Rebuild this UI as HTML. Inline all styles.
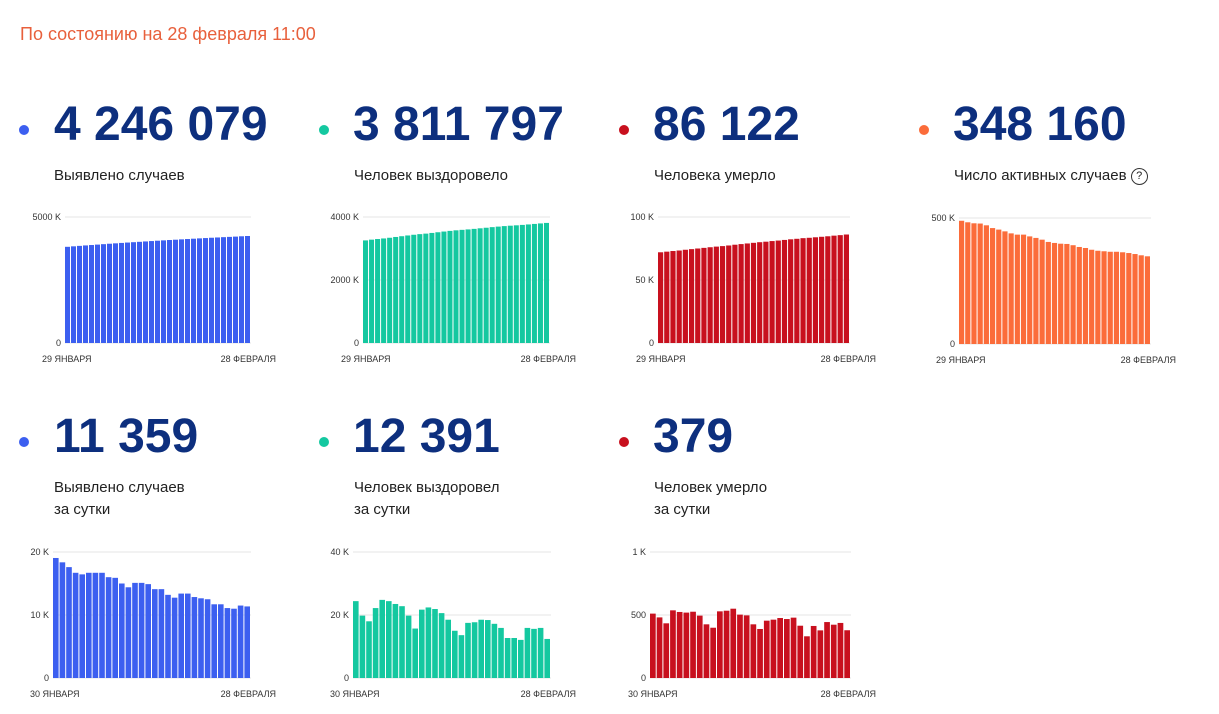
<!DOCTYPE html>
<html><head><meta charset="utf-8">
<style>
body{margin:0;background:#fff;width:1219px;height:714px;overflow:hidden;font-family:"Liberation Sans","DejaVu Sans",sans-serif;position:relative}
.abs{position:absolute}
#hdr{left:20px;top:24px;font-size:18px;color:#e8603c}
.num{font-size:48px;font-weight:bold;color:#0d2f7e;line-height:48px}
.dot{width:10px;height:10px;border-radius:50%}
.lbl{font-size:15px;color:#222;line-height:22px}
svg text{font-family:"Liberation Sans",sans-serif;font-size:9px;fill:#333}
</style></head><body>
<div id="hdr" class="abs">По состоянию на 28 февраля 11:00</div>

<div class="abs dot" style="left:19px;top:125px;background:#3c5ff0"></div>
<div class="abs num" style="left:54px;top:101px">4 246 079</div>
<div class="abs lbl" style="left:54px;top:165px">Выявлено случаев</div>

<div class="abs dot" style="left:319px;top:125px;background:#14c8a0"></div>
<div class="abs num" style="left:353px;top:101px">3 811 797</div>
<div class="abs lbl" style="left:354px;top:165px">Человек выздоровело</div>

<div class="abs dot" style="left:619px;top:125px;background:#c8101e"></div>
<div class="abs num" style="left:653px;top:101px">86 122</div>
<div class="abs lbl" style="left:654px;top:165px">Человека умерло</div>

<div class="abs dot" style="left:919px;top:125px;background:#fb6c3a"></div>
<div class="abs num" style="left:953px;top:101px">348 160</div>
<div class="abs lbl" style="left:954px;top:165px">Число активных случаев <span style="display:inline-block;width:15px;height:15px;border:1px solid #333;border-radius:50%;font-size:11px;text-align:center;line-height:15px;vertical-align:1px">?</span></div>

<div class="abs dot" style="left:19px;top:437px;background:#3c5ff0"></div>
<div class="abs num" style="left:54px;top:413px">11 359</div>
<div class="abs lbl" style="left:54px;top:477px">Выявлено случаев<br>за сутки</div>

<div class="abs dot" style="left:319px;top:437px;background:#14c8a0"></div>
<div class="abs num" style="left:353px;top:413px">12 391</div>
<div class="abs lbl" style="left:354px;top:477px">Человек выздоровел<br>за сутки</div>

<div class="abs dot" style="left:619px;top:437px;background:#c8101e"></div>
<div class="abs num" style="left:653px;top:413px">379</div>
<div class="abs lbl" style="left:654px;top:477px">Человек умерло<br>за сутки</div>

<svg id="charts" class="abs" style="left:0;top:0" width="1219" height="714"></svg>
<script>
const casesTotal=[3817,3836,3854,3872,3888,3905,3922,3939,3955,3971,3986,4000,4015,4030,4045,4059,4073,4087,4099,4113,4126,4139,4152,4164,4177,4188,4200,4211,4222,4235,4246];
const recoveredTotal=[3257,3281,3301,3319,3341,3366,3390,3414,3436,3456,3472,3494,3516,3538,3559,3577,3592,3606,3623,3641,3659,3678,3695,3711,3724,3736,3749,3764,3780,3796,3812];
const deathsTotal=[72.0,72.5,73.0,73.4,74.0,74.5,75.0,75.5,76.0,76.5,76.9,77.4,78.0,78.5,79.0,79.5,80.0,80.4,80.9,81.3,81.8,82.3,82.7,83.2,83.5,83.9,84.3,84.7,85.2,85.6,86.1];
const activeTotal=[489,483,479,478,471,460,454,447,439,434,434,427,421,414,405,401,398,397,392,385,381,374,370,368,366,366,364,361,357,352,348];
const casesDaily=[19.05,18.36,17.6,16.7,16.45,16.7,16.7,16.7,16.0,15.9,15.0,14.4,15.1,15.1,14.9,14.1,14.1,13.2,12.75,13.4,13.4,12.85,12.65,12.5,11.7,11.7,11.1,11.0,11.5,11.36];
const recoveredDaily=[24.4,19.8,18.0,22.2,24.8,24.4,23.5,22.8,19.8,15.7,21.7,22.4,21.9,20.6,18.5,15.0,13.6,17.5,17.7,18.5,18.4,17.2,15.9,12.7,12.7,12.1,15.9,15.6,15.9,12.4];
const deathsDaily=[511,481,434,537,524,519,526,495,426,399,529,534,550,503,497,426,389,455,463,476,468,479,415,331,413,378,444,423,437,379];
const ticks1=["5000 K","0"],ticks2=["4000 K","2000 K","0"],ticks3=["100 K","50 K","0"],ticks4=["500 K","0"];
const ticks5=["20 K","10 K","0"],ticks6=["40 K","20 K","0"],ticks7=["1 K","500","0"];
const startTop="29 ЯНВАРЯ",startBot="30 ЯНВАРЯ",endLbl="28 ФЕВРАЛЯ";
const NS="http://www.w3.org/2000/svg",svg=document.getElementById('charts');
function mk(t,a){const e=document.createElementNS(NS,t);for(const k in a)e.setAttribute(k,a[k]);svg.appendChild(e);return e;}
function chart(name,data,max,ticks,color,x0,x1,yTop,yBase,start,lblX0,lblX1){
  const h=yBase-yTop;
  const ys=v=>yBase-v/max*h;
  ticks.forEach((t,i)=>{
    const v=max*(1-i/(ticks.length-1));const y=ys(v);
    const g=mk('line',{x1:x0,x2:x1,y1:y,y2:y,stroke:'#e6e6e6','stroke-width':1});
    
    
    const tx=mk('text',{x:x0-4,y:y+3,'text-anchor':'end'});tx.textContent=t;
    
    
  });
  const bw=(x1-x0)/data.length;
  data.forEach((v,i)=>{
    const r=mk('rect',{x:x0+i*bw,y:ys(v),width:bw-1,height:yBase-ys(v),fill:color});
    
    
  });
  const a=mk('text',{x:lblX0,y:yBase+19});a.textContent=start;
  
  
  const b=mk('text',{x:lblX1,y:yBase+19,'text-anchor':'end'});b.textContent=endLbl;
  
  
}
chart('cases-chart',casesTotal,5000,ticks1,'#3c5ff0',65,251,217,343,startTop,42,276);
chart('recovered-chart',recoveredTotal,4000,ticks2,'#14c8a0',363,550,217,343,startTop,341,576);
chart('deaths-chart',deathsTotal,100,ticks3,'#c8101e',658,850,217,343,startTop,636,876);
chart('active-chart',activeTotal,500,ticks4,'#fb6c3a',959,1151,218,344,startTop,936,1176);
chart('daily-cases-chart',casesDaily,20,ticks5,'#3c5ff0',53,251,552,678,startBot,30,276);
chart('daily-recovered-chart',recoveredDaily,40,ticks6,'#14c8a0',353,551,552,678,startBot,330,576);
chart('daily-deaths-chart',deathsDaily,1000,ticks7,'#c8101e',650,851,552,678,startBot,628,876);
</script>
</body></html>
